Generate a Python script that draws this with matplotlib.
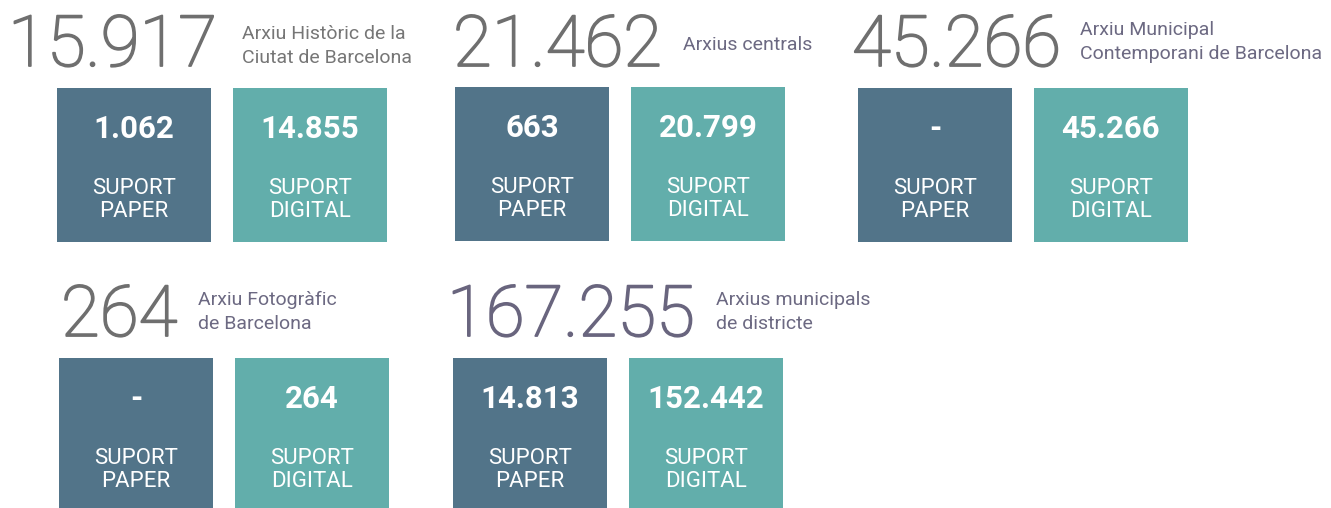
import matplotlib.pyplot as plt
import matplotlib.patheffects as pe
from matplotlib.patches import Rectangle

# data
names = [
    ["Arxiu Històric de la", "Ciutat de Barcelona"],
    ["Arxius centrals"],
    ["Arxiu Municipal", "Contemporani de Barcelona"],
    ["Arxiu Fotogràfic", "de Barcelona"],
    ["Arxius municipals", "de districte"],
]
totals = [15917, 21462, 45266, 264, 167255]
paper = [1062, 663, None, None, 14813]
digital = [14855, 20799, 45266, 264, 152442]

# layout (pixels, origin top-left)
box_left = [57, 455, 858, 59, 453]
box_top = [88, 87, 88, 358, 358]
num_x = [8, 453, 852, 61, 447]
num_base = [66, 66, 66, 336, 336]
label_x = [242, 683, 1080, 198, 716]
label_base = [39, 50, 35, 305, 305]
num_color = ["#6f6f6f", "#6f6f6f", "#6f6f6f", "#6f6f6f", "#69657e"]
label_color = ["#767676", "#6c6982", "#6c6982", "#6c6982", "#6c6982"]

BOX = 154
GAP = 176
C_PAPER = "#527489"
C_DIGITAL = "#62aeab"

W, H = 1331, 508
fig = plt.figure(figsize=(W / 100, H / 100), dpi=100)
ax = fig.add_axes([0, 0, 1, 1])
ax.set_xlim(0, W)
ax.set_ylim(H, 0)
ax.axis("off")

FONT = "Roboto"


def fmt(v):
    if v is None:
        return "-"
    return f"{v:,}".replace(",", ".")


for i in range(len(totals)):
    ax.text(num_x[i], num_base[i], fmt(totals[i]), fontsize=51, family=FONT,
            fontweight="light", color=num_color[i], va="baseline", ha="left",
            path_effects=[pe.withStroke(linewidth=1.3, foreground=num_color[i])])
    for j, line in enumerate(names[i]):
        ax.text(label_x[i], label_base[i] + 24 * j, line, fontsize=14,
                family=FONT, color=label_color[i], va="baseline", ha="left")

    for k, (vals, col, word) in enumerate([(paper, C_PAPER, "PAPER"),
                                           (digital, C_DIGITAL, "DIGITAL")]):
        x0 = box_left[i] + GAP * k
        y0 = box_top[i]
        ax.add_patch(Rectangle((x0, y0), BOX, BOX, facecolor=col, edgecolor="none"))
        cx = x0 + BOX / 2
        ax.text(cx, y0 + 50, fmt(vals[i]), fontsize=22.5, family=FONT,
                fontweight="bold", color="white", ha="center", va="baseline")
        ax.text(cx, y0 + 106, "SUPORT", fontsize=16, family=FONT,
                fontweight="normal", color="white", ha="center", va="baseline")
        ax.text(cx, y0 + 129, word, fontsize=16, family=FONT,
                fontweight="normal", color="white", ha="center", va="baseline")

fig.savefig("out.png", dpi=100, facecolor="white")
